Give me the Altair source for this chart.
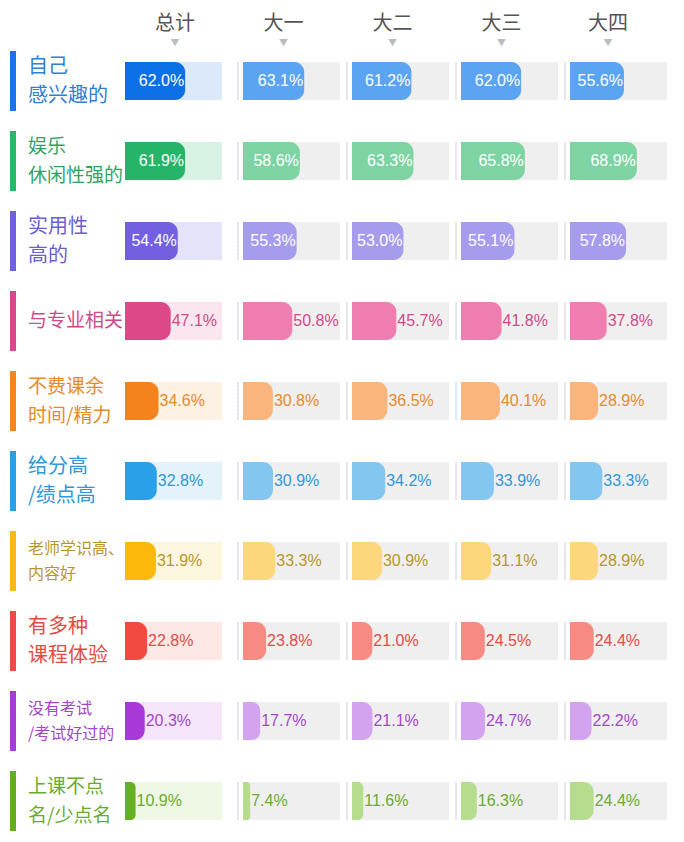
import altair as alt
import pandas as pd

# ---------------- data ----------------
categories = [
    "自己\n感兴趣的",
    "娱乐\n休闲性强的",
    "实用性\n高的",
    "与专业相关",
    "不费课余\n时间/精力",
    "给分高\n/绩点高",
    "老师学识高、\n内容好",
    "有多种\n课程体验",
    "没有考试\n/考试好过的",
    "上课不点\n名/少点名",
]
groups = ["总计", "大一", "大二", "大三", "大四"]

values_total = [62.0, 61.9, 54.4, 47.1, 34.6, 32.8, 31.9, 22.8, 20.3, 10.9]
values_y1 = [63.1, 58.6, 55.3, 50.8, 30.8, 30.9, 33.3, 23.8, 17.7, 7.4]
values_y2 = [61.2, 63.3, 53.0, 45.7, 36.5, 34.2, 30.9, 21.0, 21.1, 11.6]
values_y3 = [62.0, 65.8, 55.1, 41.8, 40.1, 33.9, 31.1, 24.5, 24.7, 16.3]
values_y4 = [55.6, 68.9, 57.8, 37.8, 28.9, 33.3, 28.9, 24.4, 22.2, 24.4]
series = [values_total, values_y1, values_y2, values_y3, values_y4]

# ---------------- styles ----------------
accent = ["#1a73e8", "#27b86a", "#6f61dd", "#d9488a", "#f5851f",
          "#2a9fe6", "#fbb90f", "#ef4a43", "#a83ad6", "#62ad22"]
text_col = ["#2f7fd3", "#2ea464", "#6a5fd0", "#d04a8a", "#e8892a",
            "#3097d8", "#b8962a", "#e24c46", "#a347c8", "#6aab30"]
bar_dark = ["#0b6fe6", "#25b468", "#7260e0", "#dc4888", "#f5831d",
            "#29a0e8", "#fcb90c", "#f24a40", "#a938d8", "#64b020"]
bar_light = ["#5ba4f2", "#7ed3a3", "#a59cee", "#f07db0", "#f9b57c",
             "#83c6ef", "#fdd77b", "#f88a84", "#d3a3f0", "#b6dd8d"]
bg_total = ["#dce9fb", "#d8f2e3", "#e5e3fa", "#fbe6ef", "#fdf1e3",
            "#e4f2fb", "#fdf6de", "#fde8e6", "#f5e6fc", "#eef8e4"]
BG_OTHER = "#efefef"

FONT_NUM = "Liberation Sans"
FONT_CJK = "Noto Sans CJK SC"

H = 768
# panel widths (cell incl. gaps) and the pixel range of the 0-100% scale inside each
PANEL_W = [118, 109, 109, 109, 102]
BAR_RANGE = [5, 102]
HEAD_DX = [-4, -9, -9, -9, -8]

yscale = alt.Scale(domain=categories, paddingInner=0.525, paddingOuter=0.0625)
y_enc = alt.Y("cat:N", scale=yscale, axis=None)


def cs(rng):
    return alt.Scale(domain=categories, range=rng)


def head(text, sub, dx=0):
    return alt.TitleParams(
        text=text, subtitle=sub, fontSize=20, font=FONT_CJK, color="#555555",
        fontWeight="normal", subtitleFontSize=9, subtitleColor="#bdbdbd",
        subtitleFont=FONT_CJK, subtitlePadding=5, offset=9, anchor="middle",
        dx=dx,
    )


def panel(i):
    df = pd.DataFrame({"cat": categories, "value": series[i]})
    df["label"] = df["value"].map(lambda v: f"{v:.1f}%")
    total = i == 0
    xs = alt.Scale(domain=[0, 100], range=BAR_RANGE, nice=False, zero=False)
    base = alt.Chart(df).transform_calculate(start="0", full="100").encode(y=y_enc)
    if total:
        bg_color = alt.Color("cat:N", scale=cs(bg_total), legend=None)
        bar_color = alt.Color("cat:N", scale=cs(bar_dark), legend=None)
    else:
        bg_color = alt.value(BG_OTHER)
        bar_color = alt.Color("cat:N", scale=cs(bar_light), legend=None)

    bg = base.mark_bar().encode(
        x=alt.X("start:Q", scale=xs, axis=None), x2=alt.X2("full"), color=bg_color
    )
    bar = base.mark_bar(cornerRadiusTopRight=10, cornerRadiusBottomRight=10).encode(
        x=alt.X("start:Q", scale=xs, axis=None), x2=alt.X2("value"), color=bar_color
    )
    inside = base.transform_filter("datum.value >= 52").mark_text(
        align="right", dx=-1, color="white", fontSize=16, font=FONT_NUM
    ).encode(x=alt.X("value:Q", scale=xs, axis=None), text="label:N")
    outside = base.transform_filter("datum.value < 52").mark_text(
        align="left", dx=1, fontSize=16, font=FONT_NUM
    ).encode(
        x=alt.X("value:Q", scale=xs, axis=None), text="label:N",
        color=alt.Color("cat:N", scale=cs(text_col), legend=None),
    )
    layers = [bg, bar, inside, outside]
    if not total:
        sep = base.mark_tick(
            orient="vertical", filled=False, thickness=0.1, size=38,
            strokeDash=[2, 2], strokeWidth=1, color="#b3bccb",
        ).encode(x=alt.value(0))
        layers.append(sep)
    return alt.layer(*layers).resolve_scale(color="independent").properties(
        width=PANEL_W[i], height=H, title=head(groups[i], "▼", HEAD_DX[i])
    )


# left labels
df_left = pd.DataFrame({"cat": categories})
lines = [c.split("\n") for c in categories]
maxlen = [max(len(s) for s in ls) for ls in lines]
df_left["fs"] = [20 if m <= 4 else (19 if m == 5 else 16) for m in maxlen]
df_left["nl"] = [len(ls) for ls in lines]

lbase = alt.Chart(df_left).encode(y=y_enc)
acc = lbase.mark_bar(height=60).encode(
    x=alt.value(2), x2=alt.value(8),
    color=alt.Color("cat:N", scale=cs(accent), legend=None),
)


def label_layer(cond, lh):
    return lbase.transform_filter(cond).mark_text(
        align="left", baseline="middle", lineBreak="\n", lineHeight=lh,
        font=FONT_CJK, dy=-lh / 2,
    ).encode(
        x=alt.value(20), text="cat:N", size=alt.Size("fs:Q", scale=None),
        color=alt.Color("cat:N", scale=cs(text_col), legend=None),
    )


lab_big = label_layer("datum.fs >= 19 && datum.nl == 2", 29)
lab_small = label_layer("datum.fs < 19 && datum.nl == 2", 25)
lab_one = lbase.transform_filter("datum.nl == 1").mark_text(
    align="left", baseline="middle", font=FONT_CJK
).encode(
    x=alt.value(20), text="cat:N", size=alt.Size("fs:Q", scale=None),
    color=alt.Color("cat:N", scale=cs(text_col), legend=None),
)
left = alt.layer(acc, lab_big, lab_small, lab_one).resolve_scale(color="independent").properties(
    width=112, height=H, title=head(" ", " ")
)

chart = (
    alt.hconcat(left, *[panel(i) for i in range(5)], spacing=0, bounds="flush")
    .resolve_scale(color="independent")
    .properties(padding=0, background="white")
    .configure_view(stroke=None)
)

chart.save("out.html", embed_options={"renderer": "svg", "actions": False})
